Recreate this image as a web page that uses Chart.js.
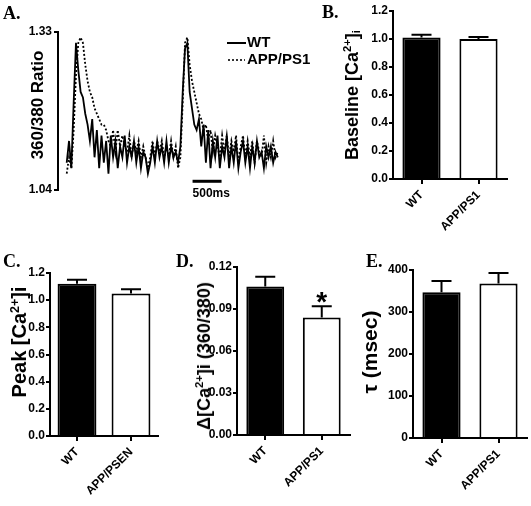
<!DOCTYPE html>
<html>
<head>
<meta charset="utf-8">
<script src="https://cdn.jsdelivr.net/npm/chart.js@4.4.1/dist/chart.umd.min.js"></script>
<style>
  body { margin: 0; background: #fff; }
  #fig { position: relative; width: 531px; height: 506px; font-family: "Liberation Sans", Arial, sans-serif; font-weight: bold; color: #000; }
  #fig canvas { position: absolute; }
  .letter { position: absolute; font-family: "Liberation Serif", "Times New Roman", serif; font-weight: bold; font-size: 18px; line-height: 1; }
  .ytitle { position: absolute; white-space: nowrap; line-height: 1; transform: translate(-50%, -50%) rotate(-90deg); }
  .ytitle sup { font-size: 62%; vertical-align: 0.6em; line-height: 0; }
  .ytitle sub { font-size: 62%; vertical-align: -0.2em; line-height: 0; }
</style>
</head>
<body>
<div id="fig">
  <canvas id="cA" width="320" height="200" style="left:0;top:0"></canvas>
  <canvas id="cB" width="190" height="250" style="left:330px;top:0"></canvas>
  <canvas id="cC" width="170" height="256" style="left:0;top:250px"></canvas>
  <canvas id="cD" width="185" height="256" style="left:170px;top:250px"></canvas>
  <canvas id="cE" width="186" height="256" style="left:345px;top:250px"></canvas>

  <div class="letter" style="left:3px;top:4px">A.</div>
  <div class="letter" style="left:322px;top:3px">B.</div>
  <div class="letter" style="left:3px;top:252px">C.</div>
  <div class="letter" style="left:176px;top:252px">D.</div>
  <div class="letter" style="left:366px;top:252px">E.</div>

  <div class="ytitle" style="left:37px;top:105px;font-size:17px">360/380 Ratio</div>
  <div class="ytitle" style="left:352px;top:95px;font-size:18px">Baseline [Ca<sup>2+</sup>]<sub>i</sub></div>
  <div class="ytitle" style="left:19px;top:342px;font-size:20px">Peak [Ca<sup>2+</sup>]i</div>
  <div class="ytitle" style="left:204px;top:356px;font-size:18px">&Delta;[Ca<sup>2+</sup>]i (360/380)</div>
  <div class="ytitle" style="left:369px;top:352px;font-size:21px">&tau; (msec)</div>
</div>

<script>
// Panel A: Ca transient traces (360/380 ratio), one sample every 40 ms
const sampleMs = 40;
const wtTrace = [
  1.09, 1.13, 1.08, 1.20, 1.31, 1.26, 1.22, 1.21, 1.18, 1.16,
  1.13, 1.17, 1.10, 1.15, 1.08, 1.14, 1.09, 1.13, 1.07, 1.14,
  1.10, 1.13, 1.08, 1.12, 1.10, 1.14, 1.09, 1.12, 1.10, 1.13,
  1.09, 1.12, 1.08, 1.11, 1.10, 1.07, 1.09, 1.12, 1.09, 1.13,
  1.10, 1.12, 1.09, 1.13, 1.09, 1.12, 1.10, 1.11, 1.09, 1.12,
  1.22, 1.30, 1.31, 1.22, 1.19, 1.16, 1.15, 1.17, 1.12, 1.16,
  1.09, 1.15, 1.08, 1.13, 1.10, 1.14, 1.08, 1.12, 1.10, 1.14,
  1.08, 1.12, 1.09, 1.13, 1.08, 1.11, 1.13, 1.09, 1.12, 1.08,
  1.12, 1.09, 1.13, 1.10, 1.11, 1.08, 1.12, 1.10, 1.12, 1.09,
  1.11, 1.10
];
const appTrace = [
  1.07, 1.10, 1.08, 1.15, 1.25, 1.31, 1.32, 1.31, 1.27, 1.24,
  1.22, 1.21, 1.19, 1.18, 1.17, 1.16, 1.16, 1.15, 1.13, 1.12,
  1.15, 1.11, 1.15, 1.12, 1.14, 1.12, 1.11, 1.14, 1.10, 1.13,
  1.11, 1.13, 1.10, 1.12, 1.10, 1.08, 1.10, 1.13, 1.10, 1.13,
  1.11, 1.13, 1.10, 1.12, 1.10, 1.13, 1.10, 1.12, 1.08, 1.10,
  1.20, 1.31, 1.32, 1.27, 1.24, 1.22, 1.20, 1.18, 1.17, 1.15,
  1.16, 1.13, 1.15, 1.11, 1.14, 1.12, 1.10, 1.14, 1.11, 1.14,
  1.10, 1.13, 1.11, 1.14, 1.09, 1.12, 1.14, 1.10, 1.13, 1.10,
  1.13, 1.09, 1.13, 1.11, 1.10, 1.14, 1.09, 1.12, 1.10, 1.13,
  1.10, 1.11
];
const traceTicks = [1.04, 1.33];
const scaleBarStart = 2170;   // ms
const scaleBarLength = 500;   // ms

// Panels B-E: mean and SEM
const groupsPS1 = ['WT', 'APP/PS1'];
const groupsPSEN = ['WT', 'APP/PSEN'];
const baselineMean = [1.01, 1.00];
const baselineSem = [0.02, 0.015];
const peakMean = [1.12, 1.05];
const peakSem = [0.03, 0.03];
const deltaMean = [0.106, 0.084];
const deltaSem = [0.007, 0.008];
const deltaSig = ['', '*'];
const tauMean = [347, 368];
const tauSem = [27, 25];

Chart.defaults.color = '#000';
Chart.defaults.font.family = '"Liberation Sans", Arial, sans-serif';
Chart.defaults.font.weight = 'bold';
Chart.defaults.font.size = 12;

// legend + 500 ms scale bar for the traces
const traceExtras = {
  id: 'traceExtras',
  afterDraw(chart) {
    const ctx = chart.ctx;
    const xs = chart.scales.x, ys = chart.scales.y;
    ctx.save();
    ctx.strokeStyle = '#000';
    ctx.fillStyle = '#000';
    ctx.font = 'bold 15px "Liberation Sans", Arial, sans-serif';
    ctx.textBaseline = 'middle';
    ctx.lineWidth = 2;
    ctx.beginPath(); ctx.moveTo(227, 43); ctx.lineTo(246, 43); ctx.stroke();
    ctx.fillText('WT', 247, 43);
    ctx.lineWidth = 1.6;
    ctx.setLineDash([2, 2]);
    ctx.beginPath(); ctx.moveTo(228, 60); ctx.lineTo(245, 60); ctx.stroke();
    ctx.setLineDash([]);
    ctx.fillText('APP/PS1', 247, 60);

    const x0 = xs.getPixelForValue(scaleBarStart);
    const x1 = xs.getPixelForValue(scaleBarStart + scaleBarLength);
    const yb = ys.getPixelForValue(1.056);
    ctx.lineWidth = 3;
    ctx.beginPath(); ctx.moveTo(x0, yb); ctx.lineTo(x1, yb); ctx.stroke();
    ctx.font = 'bold 12px "Liberation Sans", Arial, sans-serif';
    ctx.fillText(scaleBarLength + 'ms', x0, yb + 12);
    ctx.restore();
  }
};

new Chart(document.getElementById('cA'), {
  type: 'line',
  data: {
    datasets: [
      { label: 'WT', data: wtTrace.map((v, i) => ({ x: i * sampleMs, y: v })),
        borderColor: '#000', borderWidth: 1.8, pointRadius: 0, tension: 0 },
      { label: 'APP/PS1', data: appTrace.map((v, i) => ({ x: i * sampleMs, y: v })),
        borderColor: '#000', borderWidth: 1.8, borderDash: [2, 2], pointRadius: 0, tension: 0 }
    ]
  },
  options: {
    responsive: false,
    animation: false,
    layout: { padding: { top: 32, bottom: 10, right: 30, left: 0 } },
    plugins: { legend: { display: false }, tooltip: { enabled: false } },
    scales: {
      x: { type: 'linear', display: false, min: -150, max: 3850 },
      y: {
        min: 1.04, max: 1.33,
        afterBuildTicks: s => { s.ticks = traceTicks.map(v => ({ value: v })); },
        afterFit: s => { s.width = 58; },
        ticks: { callback: v => v.toFixed(2), padding: 2 },
        grid: { display: true, drawOnChartArea: false, tickLength: 4, color: '#000', lineWidth: 2 },
        border: { display: true, color: '#000', width: 2 }
      }
    }
  },
  plugins: [traceExtras]
});

// upper error bars (and significance marks) drawn from the y scale
const errorBars = {
  id: 'errorBars',
  afterDatasetsDraw(chart) {
    const ctx = chart.ctx, ys = chart.scales.y;
    const ds = chart.data.datasets[0];
    const meta = chart.getDatasetMeta(0);
    ctx.save();
    ctx.strokeStyle = '#000';
    ctx.fillStyle = '#000';
    ctx.lineWidth = 2;
    meta.data.forEach((bar, i) => {
      const top = ys.getPixelForValue(ds.data[i]);
      const hi = ys.getPixelForValue(ds.data[i] + ds.errors[i]);
      ctx.beginPath();
      ctx.moveTo(bar.x, top); ctx.lineTo(bar.x, hi);
      ctx.moveTo(bar.x - 10, hi); ctx.lineTo(bar.x + 10, hi);
      ctx.stroke();
      if (ds.marks && ds.marks[i]) {
        ctx.font = 'bold 28px "Liberation Sans", Arial, sans-serif';
        ctx.textAlign = 'center';
        ctx.textBaseline = 'alphabetic';
        ctx.fillText(ds.marks[i], bar.x, hi + 5);
      }
    });
    ctx.restore();
  }
};

function barPanel(id, labels, means, sems, marks, yMax, yStep, decimals, g) {
  return new Chart(document.getElementById(id), {
    type: 'bar',
    data: {
      labels: labels,
      datasets: [{
        data: means,
        errors: sems,
        marks: marks,
        backgroundColor: ['#000', '#fff'],
        borderColor: '#000',
        borderWidth: 2,
        borderSkipped: 'start',
        categoryPercentage: 1,
        barPercentage: g.bar
      }]
    },
    options: {
      responsive: false,
      animation: false,
      layout: { padding: { top: g.top, right: g.right, left: 0, bottom: 0 } },
      plugins: { legend: { display: false }, tooltip: { enabled: false } },
      scales: {
        x: {
          afterFit: s => { s.height = g.xh; },
          ticks: { minRotation: 45, maxRotation: 45, padding: 4 },
          grid: { display: true, offset: false, drawOnChartArea: false, tickLength: 5, color: '#000', lineWidth: 2 },
          border: { display: true, color: '#000', width: 2 }
        },
        y: {
          min: 0, max: yMax,
          afterFit: s => { s.width = g.yw; },
          ticks: { stepSize: yStep, padding: 1, callback: v => v.toFixed(decimals) },
          grid: { display: true, drawOnChartArea: false, tickLength: 4, color: '#000', lineWidth: 2 },
          border: { display: true, color: '#000', width: 2 }
        }
      }
    },
    plugins: [errorBars]
  });
}

barPanel('cB', groupsPS1, baselineMean, baselineSem, null, 1.2, 0.2, 1,
  { yw: 63, top: 11, xh: 71, right: 13, bar: 0.67 });
barPanel('cC', groupsPSEN, peakMean, peakSem, null, 1.2, 0.2, 1,
  { yw: 50, top: 23, xh: 70, right: 12, bar: 0.72 });
barPanel('cD', groupsPS1, deltaMean, deltaSem, deltaSig, 0.12, 0.03, 2,
  { yw: 67, top: 17, xh: 71, right: 5, bar: 0.67 });
barPanel('cE', groupsPS1, tauMean, tauSem, null, 400, 100, 0,
  { yw: 68, top: 20, xh: 68, right: 4, bar: 0.67 });
</script>
</body>
</html>
